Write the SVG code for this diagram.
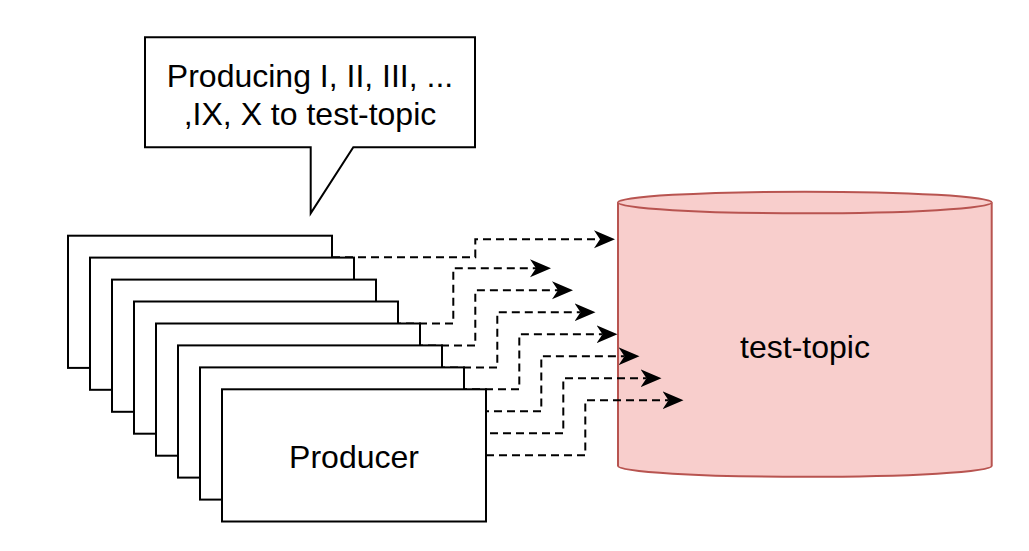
<svg xmlns="http://www.w3.org/2000/svg" width="1029" height="551" viewBox="0 0 1029 551">
<style>
.box{fill:#ffffff;stroke:#000000;stroke-width:2}
.cyl{fill:#f8cecc;stroke:#b85450;stroke-width:2}
.conn{fill:none;stroke:#000000;stroke-width:2;stroke-dasharray:8 5}
.lbl{font-family:"Liberation Sans",Arial,Helvetica,sans-serif;font-size:32px;fill:#000000;text-anchor:middle}
</style>
<defs>
<marker id="arrow" viewBox="0 0 21 19" refX="6" refY="9.5" markerWidth="21" markerHeight="19" markerUnits="userSpaceOnUse" orient="auto">
<path d="M0,0.5 L21,9.5 L0,18.5 L6,9.5 Z" fill="#000000"/>
</marker>
</defs>
<rect width="1029" height="551" fill="#ffffff"/>
<g id="test-topic">
<path class="cyl" d="M618,202.5 A186.8,10.8 0 0 1 991.7,202.5 V466 A186.8,10.8 0 0 1 618,466 Z"/>
<path class="cyl" fill="none" d="M618,202.5 A186.8,10.8 0 0 0 991.7,202.5"/>
<text class="lbl" x="805" y="358.3">test-topic</text>
</g>
<g id="connectors">
<path class="conn" marker-end="url(#arrow)" d="M332,257.3 H475.3 V239.3 H600"/>
<path class="conn" marker-end="url(#arrow)" d="M354,323.5 H453.3 V268.3 H536"/>
<path class="conn" marker-end="url(#arrow)" d="M376,345.4 H475.3 V290.3 H558"/>
<path class="conn" marker-end="url(#arrow)" d="M398,367.4 H497.3 V312.2 H580.5"/>
<path class="conn" marker-end="url(#arrow)" d="M420,389.3 H519.3 V334.2 H602.5"/>
<path class="conn" marker-end="url(#arrow)" d="M442,411.3 H541.3 V356.2 H624.5"/>
<path class="conn" marker-end="url(#arrow)" d="M464,433.2 H563.3 V378.2 H646.5"/>
<path class="conn" marker-end="url(#arrow)" d="M486,455.2 H585.3 V400.2 H668.5"/>
</g>
<g id="producer-1"><rect class="box" x="68" y="235.7" width="264" height="132.2"/></g>
<g id="producer-2"><rect class="box" x="90" y="257.6" width="264" height="132.2"/></g>
<g id="producer-3"><rect class="box" x="112" y="279.6" width="264" height="132.2"/></g>
<g id="producer-4"><rect class="box" x="134" y="301.5" width="264" height="132.2"/></g>
<g id="producer-5"><rect class="box" x="156" y="323.5" width="264" height="132.2"/></g>
<g id="producer-6"><rect class="box" x="178" y="345.4" width="264" height="132.2"/></g>
<g id="producer-7"><rect class="box" x="200" y="367.4" width="264" height="132.2"/></g>
<g id="producer-8">
<rect class="box" x="222" y="389.3" width="264" height="132.2"/>
<text class="lbl" x="354" y="468.3">Producer</text>
</g>
<g id="callout">
<path class="box" d="M145,37.3 H475 V147.3 H353.3 L310.7,213.3 V147.3 H145 Z"/>
<text class="lbl" x="310" y="86.5">Producing I, II, III, ...</text>
<text class="lbl" x="310" y="125">,IX, X to test-topic</text>
</g>
</svg>
